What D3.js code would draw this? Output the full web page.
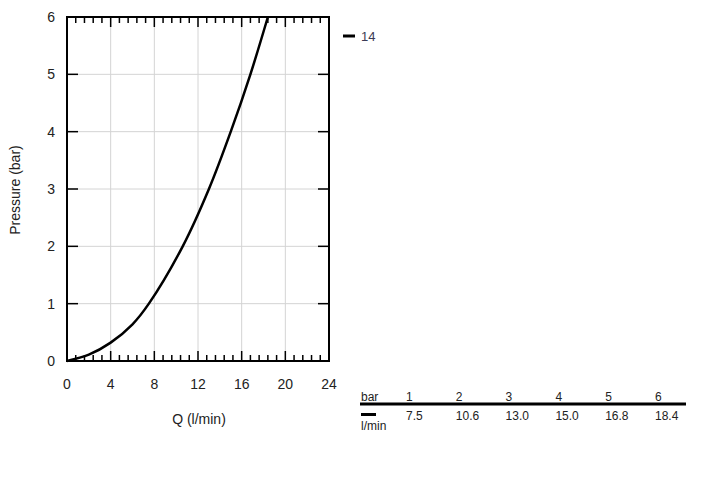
<!DOCTYPE html>
<html>
<head>
<meta charset="utf-8">
<script src="https://cdn.jsdelivr.net/npm/d3@7"></script>
<style>
  body { margin: 0; background: #fff; }
  svg { font-family: "Liberation Sans", Arial, sans-serif; }
</style>
</head>
<body>
<svg id="chart" width="728" height="478"></svg>
<script>
// table values (bar -> l/min)
const pressures = [1, 2, 3, 4, 5, 6]
const flows = [7.5, 10.6, 13.0, 15.0, 16.8, 18.4]

// curve points
const curveQ = [0, 2, 4, 6, 7.5, 10.6, 13.0, 15.0, 16.8, 18.4]
const curveP = [0, 0.11, 0.32, 0.64, 1, 2, 3, 4, 5, 6]

const xTicks = [0, 4, 8, 12, 16, 20, 24]
const yTicks = [0, 1, 2, 3, 4, 5, 6]
const seriesName = '14'

const svg = d3.select('#chart')

const plot = { left: 67, right: 329, top: 17, bottom: 361 }

const x = d3.scaleLinear().domain([0, 24]).range([plot.left, plot.right])
const y = d3.scaleLinear().domain([0, 6]).range([plot.bottom, plot.top])

// grid
svg
  .append('g')
  .selectAll('line')
  .data(xTicks.slice(1, -1))
  .enter()
  .append('line')
  .attr('x1', (d) => x(d))
  .attr('x2', (d) => x(d))
  .attr('y1', plot.top)
  .attr('y2', plot.bottom)
  .attr('stroke', '#d4d4d4')
  .attr('stroke-width', 1)

svg
  .append('g')
  .selectAll('line')
  .data(yTicks.slice(1, -1))
  .enter()
  .append('line')
  .attr('x1', plot.left)
  .attr('x2', plot.right)
  .attr('y1', (d) => y(d))
  .attr('y2', (d) => y(d))
  .attr('stroke', '#d4d4d4')
  .attr('stroke-width', 1)

// minor + major ticks on top and bottom (inward)
const xMinor = d3.range(0, 24.01, 0.8).filter((d) => d > 0 && d < 24)
const ticks = svg.append('g').attr('stroke', '#000').attr('stroke-width', 1.5)
xMinor.forEach((d) => {
  const major = Math.abs(d / 4 - Math.round(d / 4)) < 1e-6
  const len = major ? 10 : 6
  ticks.append('line').attr('x1', x(d)).attr('x2', x(d)).attr('y1', plot.bottom).attr('y2', plot.bottom - len)
  ticks.append('line').attr('x1', x(d)).attr('x2', x(d)).attr('y1', plot.top).attr('y2', plot.top + len)
})
yTicks.slice(1, -1).forEach((d) => {
  ticks.append('line').attr('x1', plot.left).attr('x2', plot.left + 11).attr('y1', y(d)).attr('y2', y(d))
  ticks.append('line').attr('x1', plot.right).attr('x2', plot.right - 11).attr('y1', y(d)).attr('y2', y(d))
})

// frame
svg
  .append('rect')
  .attr('x', plot.left)
  .attr('y', plot.top)
  .attr('width', plot.right - plot.left)
  .attr('height', plot.bottom - plot.top)
  .attr('fill', 'none')
  .attr('stroke', '#000')
  .attr('stroke-width', 2)

// tick labels
svg
  .append('g')
  .selectAll('text')
  .data(xTicks)
  .enter()
  .append('text')
  .attr('x', (d) => x(d))
  .attr('y', 389)
  .attr('text-anchor', 'middle')
  .style('font-size', '14px')
  .attr('fill', '#222')
  .text((d) => d)

svg
  .append('g')
  .selectAll('text')
  .data(yTicks)
  .enter()
  .append('text')
  .attr('x', 55)
  .attr('y', (d) => y(d) + 5)
  .attr('text-anchor', 'end')
  .style('font-size', '14px')
  .attr('fill', '#222')
  .text((d) => d)

// axis titles
svg
  .append('text')
  .attr('x', 199)
  .attr('y', 424)
  .attr('text-anchor', 'middle')
  .style('font-size', '14px')
  .attr('fill', '#222')
  .text('Q (l/min)')

svg
  .append('text')
  .attr('transform', 'translate(20,190) rotate(-90)')
  .attr('text-anchor', 'middle')
  .style('font-size', '14px')
  .attr('fill', '#222')
  .text('Pressure (bar)')

// curve
const pts = curveQ.map((q, i) => ({ q: q, p: curveP[i] }))
svg
  .append('path')
  .datum(pts)
  .attr(
    'd',
    d3
      .line()
      .x((d) => x(d.q))
      .y((d) => y(d.p))
      .curve(d3.curveCatmullRom)
  )
  .attr('fill', 'none')
  .attr('stroke', '#000')
  .attr('stroke-width', 2.5)

// legend
svg.append('line').attr('x1', 343).attr('x2', 355).attr('y1', 36).attr('y2', 36).attr('stroke', '#000').attr('stroke-width', 3)
svg
  .append('text')
  .attr('x', 361)
  .attr('y', 41)
  .style('font-size', '13px')
  .attr('fill', '#3b3b55')
  .text(seriesName)

// table
const colX = d3.scalePoint().domain(pressures).range([406, 655])
const table = svg.append('g').style('font-size', '12px').attr('fill', '#222')
table.append('text').attr('x', 361).attr('y', 401).text('bar')
table.append('text').attr('x', 361).attr('y', 430).text('l/min')
table
  .append('line')
  .attr('x1', 360)
  .attr('x2', 686)
  .attr('y1', 404)
  .attr('y2', 404)
  .attr('stroke', '#000')
  .attr('stroke-width', 3)
table
  .append('line')
  .attr('x1', 361)
  .attr('x2', 376)
  .attr('y1', 414.5)
  .attr('y2', 414.5)
  .attr('stroke', '#000')
  .attr('stroke-width', 3)
pressures.forEach((p, i) => {
  table.append('text').attr('x', colX(p)).attr('y', 401).text(p)
  table.append('text').attr('x', colX(p)).attr('y', 420).text(flows[i].toFixed(1))
})
</script>
</body>
</html>
